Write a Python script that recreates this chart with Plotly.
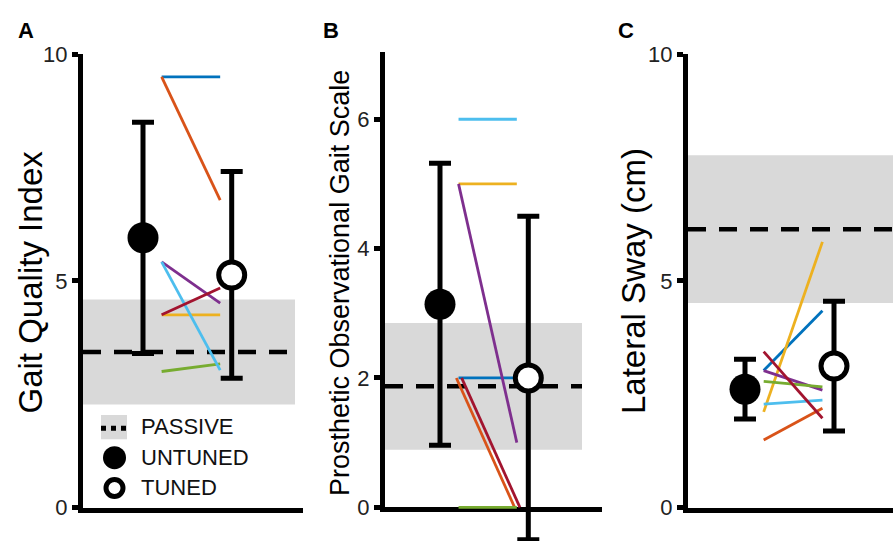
import plotly.graph_objects as go

W, H = 893, 541
FONT = "Liberation Sans, Arial, sans-serif"

# ---------------- data ----------------
conditions = ["UNTUNED", "TUNED"]
subject_colors = ["#0072BD", "#D95319", "#EDB120", "#7E2F8E", "#77AC30", "#4DBEEE", "#A2142F"]

# Panel A: Gait Quality Index
gqi_untuned_subj = [9.5, 9.5, 4.25, 5.42, 3.0, 5.42, 4.25]
gqi_tuned_subj = [9.5, 6.78, 4.25, 4.51, 3.17, 3.03, 4.84]
gqi_untuned_mean, gqi_untuned_sd = 5.95, 2.55
gqi_tuned_mean, gqi_tuned_sd = 5.13, 2.28
gqi_passive_mean, gqi_passive_sd = 3.43, 1.16

# Panel B: Prosthetic Observational Gait Scale
pogs_untuned_subj = [2, 2, 5, 5, 0, 6, 2]
pogs_tuned_subj = [2, 0, 5, 1, 0, 6, 0]
pogs_untuned_mean, pogs_untuned_sd = 3.14, 2.18
pogs_tuned_mean, pogs_tuned_sd = 2.0, 2.5
pogs_passive_mean, pogs_passive_sd = 1.87, 0.98

# Panel C: Lateral Sway (cm)
sway_untuned_subj = [3.02, 1.49, 2.11, 3.02, 2.78, 2.28, 3.44]
sway_tuned_subj = [4.34, 2.19, 5.86, 2.59, 2.66, 2.37, 1.97]
sway_untuned_mean, sway_untuned_sd = 2.61, 0.66
sway_tuned_mean, sway_tuned_sd = 3.12, 1.43
sway_passive_mean, sway_passive_sd = 6.14, 1.63

tick_labels_a = [0, 5, 10]
tick_labels_b = [0, 2, 4, 6]
tick_labels_c = [0, 5, 10]


def px(x):
    return x / W


def py(y):
    return 1 - y / H


# ---------------- layout geometry (pixels) ----------------
LINE_X0, LINE_X1 = 1.21, 1.87
panels = [
    dict(letter="A", title="Gait Quality Index", tsize=33, tx=29.5, ty=282, lx=26,
         axis_px=83, end_px=303, x1_px=143, x2_px=231.7, y0_px=507.5, ytop_px=54.2, ymax=10,
         band_end_px=295, ticks=tick_labels_a,
         un=gqi_untuned_subj, tu=gqi_tuned_subj,
         um=gqi_untuned_mean, us=gqi_untuned_sd, tm=gqi_tuned_mean, ts=gqi_tuned_sd,
         pm=gqi_passive_mean, ps=gqi_passive_sd, offsets={}),
    dict(letter="B", title="Prosthetic Observational Gait Scale", tsize=27, tx=340, ty=283, lx=331,
         axis_px=385, end_px=602, x1_px=440, x2_px=528.3, y0_px=507.3, ytop_px=52, ymax=7.04,
         band_end_px=582, ticks=tick_labels_b,
         un=pogs_untuned_subj, tu=pogs_tuned_subj,
         um=pogs_untuned_mean, us=pogs_untuned_sd, tm=pogs_tuned_mean, ts=pogs_tuned_sd,
         pm=pogs_passive_mean, ps=pogs_passive_sd, offsets={1: -0.025, 6: 0.035}),
    dict(letter="C", title="Lateral Sway (cm)", tsize=33, tx=633, ty=281, lx=626,
         axis_px=688, end_px=893, x1_px=745, x2_px=834, y0_px=507.5, ytop_px=54.2, ymax=10,
         band_end_px=893, ticks=tick_labels_c,
         un=sway_untuned_subj, tu=sway_tuned_subj,
         um=sway_untuned_mean, us=sway_untuned_sd, tm=sway_tuned_mean, ts=sway_tuned_sd,
         pm=sway_passive_mean, ps=sway_passive_sd, offsets={}),
]

fig = go.Figure()
layout = dict(template="none", width=W, height=H,
              margin=dict(l=0, r=0, t=0, b=0, pad=0, autoexpand=False),
              paper_bgcolor="white", plot_bgcolor="rgba(0,0,0,0)",
              showlegend=False, font=dict(family=FONT, color="#222"))
annotations = []
shapes = []

for i, p in enumerate(panels):
    base = i + 1          # visible axes
    data = i + 4          # overlay axes with extended vertical domain
    ppu = p["x2_px"] - p["x1_px"]
    xr0 = 1 - (p["x1_px"] - p["axis_px"]) / ppu
    xr1 = xr0 + (p["end_px"] - p["axis_px"]) / ppu
    band_end = min(xr0 + (p["band_end_px"] - p["axis_px"]) / ppu, xr1)
    xdom = [max(px(p["axis_px"]), 0), min(px(p["end_px"]), 1)]
    yd0, yd1 = py(p["y0_px"]), py(p["ytop_px"])
    upp = p["ymax"] / (yd1 - yd0)
    yext = [-yd0 * upp, p["ymax"] + (1 - yd1) * upp]

    xb, yb = f"x{base}", f"y{base}"
    xd, yd = f"x{data}", f"y{data}"

    layout[f"xaxis{base}"] = dict(domain=xdom, range=[xr0, xr1], anchor=yb, automargin=False,
                                  showline=True, linewidth=5, linecolor="black",
                                  ticks="", showticklabels=False, showgrid=False,
                                  zeroline=False, fixedrange=True)
    layout[f"yaxis{base}"] = dict(domain=[yd0, yd1], range=[0, p["ymax"]], anchor=xb,
                                  automargin=False,
                                  showline=True, linewidth=5, linecolor="black",
                                  ticks="outside", ticklen=6, tickwidth=5, tickcolor="black",
                                  tickvals=p["ticks"], ticktext=[str(t) for t in p["ticks"]],
                                  tickfont=dict(size=22, family=FONT, color="#222"),
                                  showgrid=False, zeroline=False, fixedrange=True)
    layout[f"xaxis{data}"] = dict(domain=xdom, range=[xr0, xr1], anchor=yd, visible=False,
                                  automargin=False, fixedrange=True)
    layout[f"yaxis{data}"] = dict(domain=[0, 1], range=yext, anchor=xd, visible=False,
                                  automargin=False, fixedrange=True)

    # passive band
    lo, hi = p["pm"] - p["ps"], p["pm"] + p["ps"]
    fig.add_trace(go.Scatter(x=[xr0, band_end, band_end, xr0, xr0], y=[lo, lo, hi, hi, lo],
                             fill="toself", fillcolor="#D9D9D9", mode="lines",
                             line=dict(width=0), xaxis=xb, yaxis=yb, hoverinfo="skip"))
    # passive mean (dashed)
    fig.add_trace(go.Scatter(x=[xr0, band_end], y=[p["pm"], p["pm"]], mode="lines",
                             line=dict(color="black", width=4.5, dash="18px,13px"),
                             xaxis=xb, yaxis=yb, hoverinfo="skip"))

    # individual subjects
    for s, (a, b) in enumerate(zip(p["un"], p["tu"])):
        off = p["offsets"].get(s, 0.0)
        fig.add_trace(go.Scatter(x=[LINE_X0 + off, LINE_X1 + off], y=[a, b], mode="lines",
                                 line=dict(color=subject_colors[s], width=2.8),
                                 xaxis=xd, yaxis=yd, hoverinfo="skip"))

    # group means with SD
    fig.add_trace(go.Scatter(x=[1], y=[p["um"]], mode="markers",
                             marker=dict(size=31, color="black", line=dict(width=0)),
                             error_y=dict(type="data", array=[p["us"]], color="black",
                                          thickness=5, width=11),
                             xaxis=xd, yaxis=yd, name=conditions[0]))
    fig.add_trace(go.Scatter(x=[2], y=[p["tm"]], mode="markers",
                             marker=dict(size=26, color="white", line=dict(width=5, color="black")),
                             error_y=dict(type="data", array=[p["ts"]], color="black",
                                          thickness=5, width=11),
                             xaxis=xd, yaxis=yd, name=conditions[1]))

    # axis title and panel letter
    annotations.append(dict(text=p["title"], textangle=-90, x=px(p["tx"]), y=py(p["ty"]),
                            xref="paper", yref="paper", xanchor="center", yanchor="middle",
                            showarrow=False, font=dict(size=p["tsize"], family=FONT, color="black")))
    annotations.append(dict(text="<b>%s</b>" % p["letter"], x=px(p["lx"]), y=py(30),
                            xref="paper", yref="paper", xanchor="center", yanchor="middle",
                            showarrow=False, font=dict(size=22, family=FONT, color="black")))

# legend (panel A)
shapes.append(dict(type="rect", xref="paper", yref="paper", x0=px(101), x1=px(127),
                   y0=py(439.3), y1=py(415), fillcolor="#D9D9D9", line=dict(width=0)))
shapes.append(dict(type="line", xref="paper", yref="paper", x0=px(101), x1=px(127),
                   y0=py(428.3), y1=py(428.3), line=dict(color="black", width=5, dash="5px,5px")))
shapes.append(dict(type="circle", xref="paper", yref="paper", x0=px(103), x1=px(126),
                   y0=py(469.2), y1=py(446.2), fillcolor="black", line=dict(width=0)))
shapes.append(dict(type="circle", xref="paper", yref="paper", x0=px(106), x1=px(123),
                   y0=py(496.5), y1=py(479.5), fillcolor="white", line=dict(color="black", width=5)))
for label, yy in [("PASSIVE", 426.5), ("UNTUNED", 457.5), ("TUNED", 487.5)]:
    annotations.append(dict(text=label, x=px(138.5), y=py(yy), xref="paper", yref="paper",
                            xanchor="left", yanchor="middle", showarrow=False,
                            font=dict(size=22, family=FONT, color="#111")))

layout["annotations"] = annotations
layout["shapes"] = shapes
fig.update_layout(**layout)
# remove the browser's default page margin so the 893x541 figure fills the window
fig.write_html("out.html",
               config={"displayModeBar": False, "staticPlot": True},
               post_script="document.body.style.margin='0';document.body.style.overflow='hidden';")
